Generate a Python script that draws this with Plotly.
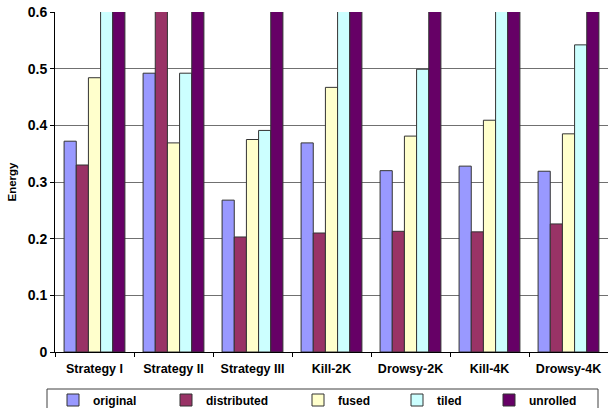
import plotly.graph_objects as go

# Benchmarks on the category axis
categories = ["Strategy I", "Strategy II", "Strategy III", "Kill-2K",
              "Drowsy-2K", "Kill-4K", "Drowsy-4K"]

# Energy per variant (values above 0.6 run off the top of the axis)
original    = [0.372, 0.492, 0.268, 0.369, 0.320, 0.328, 0.319]
distributed = [0.330, 0.710, 0.203, 0.210, 0.213, 0.212, 0.226]
fused       = [0.484, 0.369, 0.375, 0.467, 0.381, 0.409, 0.385]
tiled       = [0.620, 0.492, 0.391, 0.630, 0.499, 0.640, 0.542]
unrolled    = [0.780, 0.950, 0.660, 0.800, 0.740, 0.840, 0.700]

y_ticks = [0, 0.1, 0.2, 0.3, 0.4, 0.5, 0.6]

series = [
    ("original", original, "#9999FF"),
    ("distributed", distributed, "#993366"),
    ("fused", fused, "#FFFFCC"),
    ("tiled", tiled, "#CCFFFF"),
    ("unrolled", unrolled, "#660066"),
]

W, H = 608, 408
ML, MR, MT, MB = 55, 0, 12, 56
PW, PH = W - ML - MR, H - MT - MB


def px_x(px):
    return (px - ML) / PW


def px_y(py):
    return (H - MB - py) / PH


FONT = "Liberation Sans, Arial, sans-serif"

fig = go.Figure()
legend_names = ["legend", "legend2", "legend3", "legend4", "legend5"]
for (name, vals, color), lg in zip(series, legend_names):
    fig.add_trace(go.Bar(
        x=categories, y=vals, name=name, legend=lg,
        marker=dict(color=color, line=dict(color="#333333", width=1)),
    ))

# one legend per entry so each sits at its own spot along the bottom strip;
# container coordinates keep them from pushing the plot margins
item_left = [53, 166, 298, 397, 489]
legend_layout = {}
for lg, px in zip(legend_names, item_left):
    legend_layout[lg] = dict(
        xref="container", yref="container",
        x=px / W, y=1 - 400 / H, xanchor="left", yanchor="middle",
        orientation="h", bgcolor="rgba(0,0,0,0)", borderwidth=0,
        font=dict(family=FONT, size=12, color="black", weight="bold"),
        itemwidth=30, tracegroupgap=0,
    )

fig.update_layout(
    width=W, height=H,
    margin=dict(l=ML, r=MR, t=MT, b=MB, pad=0, autoexpand=False),
    paper_bgcolor="white", plot_bgcolor="white",
    font=dict(family=FONT, color="black"),
    barmode="group", bargap=0.23, bargroupgap=0,
    showlegend=True,
    **legend_layout,
    xaxis=dict(
        type="category", showline=True, linecolor="black", linewidth=1,
        ticks="outside", tickson="boundaries", ticklen=4, tickcolor="black",
        showgrid=False, ticklabelstandoff=5,
        tickfont=dict(family=FONT, size=12.5, color="black", weight="bold"),
    ),
    yaxis=dict(
        range=[0, 0.6], tickvals=y_ticks, ticktext=[f"{v:g}" for v in y_ticks],
        showline=True, linecolor="black", linewidth=1,
        ticks="outside", ticklen=4, tickcolor="black",
        showgrid=True, gridcolor="#707070", gridwidth=1, zeroline=False,
        tickfont=dict(family=FONT, size=14, color="black", weight="bold"),
        title=dict(text="Energy", standoff=8,
                   font=dict(family=FONT, size=11.5, color="black", weight="bold")),
    ),
    shapes=[dict(
        type="rect", xref="paper", yref="paper",
        x0=px_x(47), x1=px_x(598), y0=px_y(389), y1=px_y(420),
        line=dict(color="#404040", width=1), fillcolor="rgba(0,0,0,0)",
    )],
)

fig.write_html("out.html")
